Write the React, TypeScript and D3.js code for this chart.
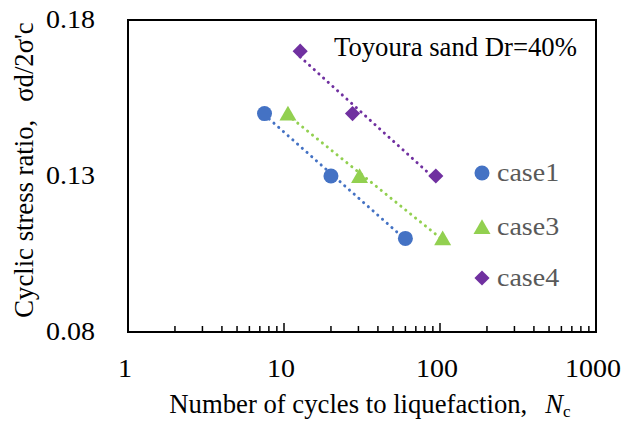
import React from 'react';
import * as d3 from 'd3';

const caseNames = ['case1', 'case3', 'case4'];
const case1N = [7.5, 20, 60];
const case1R = [0.15, 0.13, 0.11];
const case3N = [10.6, 30.5, 104];
const case3R = [0.15, 0.13, 0.11];
const case4N = [12.7, 27.5, 94];
const case4R = [0.17, 0.15, 0.13];
const seriesColors = ['#4472C4', '#92D050', '#7030A0'];
const xTickValues = [1, 10, 100, 1000];
const yTickValues = [0.08, 0.13, 0.18];

const W = 626;
const H = 426;
const M = { left: 128, right: 30, top: 20, bottom: 94 };

const seriesN = [case1N, case3N, case4N];
const seriesR = [case1R, case3R, case4R];

function regress(xs: number[], ys: number[]) {
  const lx = xs.map((v) => Math.log10(v));
  const mx = d3.mean(lx)!;
  const my = d3.mean(ys)!;
  let num = 0, den = 0;
  lx.forEach((v, i) => { num += (v - mx) * (ys[i] - my); den += (v - mx) * (v - mx); });
  const b = num / den;
  const a = my - b * mx;
  return (x: number) => a + b * Math.log10(x);
}

const serif = 'Liberation Serif, Times New Roman, serif';
const SX = 1.12;

export default function App() {
  const x = d3.scaleLog().domain([1, 1000]).range([M.left, W - M.right]);
  const y = d3.scaleLinear().domain([0.08, 0.18]).range([H - M.bottom, M.top]);
  const x0 = M.left, x1 = W - M.right, y0 = H - M.bottom, y1 = M.top;

  const minorTicks: number[] = [];
  for (let d = 1; d < 1000; d *= 10) for (let k = 2; k <= 9; k++) minorTicks.push(d * k);

  const circle = d3.symbol(d3.symbolCircle, 177)()!;
  const tri = d3.symbol(d3.symbolTriangle, 125)()!;
  const sq = d3.symbol(d3.symbolSquare, 115)()!;
  const shapes = [circle, tri, sq];
  const rot = [0, 0, 45];
  const dy = [0, 2, 0];

  const line = d3.line<[number, number]>().x((d) => d[0]).y((d) => d[1]);

  return (
    <svg width={W} height={H} style={{ position: 'absolute', left: 0, top: 0, background: '#fff' }}>
      <rect x={0} y={0} width={W} height={H} fill="#fff" />
      {seriesN.map((ns, i) => {
        const f = regress(ns, seriesR[i]);
        const lo = d3.min(ns)!, hi = d3.max(ns)!;
        const pts: [number, number][] = d3.range(0, 21).map((k) => {
          const v = Math.pow(10, Math.log10(lo) + (Math.log10(hi) - Math.log10(lo)) * k / 20);
          return [x(v), y(f(v))];
        });
        return (
          <path key={'t' + i} d={line(pts)!} fill="none" stroke={seriesColors[i]} strokeWidth={3}
            strokeDasharray="0.1 6.2" strokeLinecap="round" />
        );
      })}
      {seriesN.map((ns, i) => ns.map((n, j) => (
        <path key={'m' + i + '-' + j} d={shapes[i]} fill={seriesColors[i]}
          transform={`translate(${x(n)},${y(seriesR[i][j]) + dy[i]}) rotate(${rot[i]})`} />
      )))}
      <rect x={x0} y={y1} width={x1 - x0} height={y0 - y1} fill="none" stroke="#000" strokeWidth={2} />
      {minorTicks.map((t) => (
        <line key={'mt' + t} x1={x(t)} x2={x(t)} y1={y0} y2={y0 - 6} stroke="#000" strokeWidth={1.5} />
      ))}
      {xTickValues.map((t) => (
        <line key={'Mt' + t} x1={x(t)} x2={x(t)} y1={y0} y2={y0 - 9} stroke="#000" strokeWidth={1.5} />
      ))}
      {xTickValues.map((t) => (
        <text key={'xl' + t} transform={`translate(${x(t) - 3},377) scale(${SX},1)`} textAnchor="middle"
          fontFamily={serif} fontSize={25} fill="#000">
          {String(t)}
        </text>
      ))}
      {yTickValues.map((t) => (
        <text key={'yl' + t} transform={`translate(95,${y(t) + 8}) scale(${SX},1)`} textAnchor="end"
          fontFamily={serif} fontSize={25} fill="#000">
          {t.toFixed(2)}
        </text>
      ))}
      <text x={334} y={56} fontFamily={serif} fontSize={26.7} fill="#000">Toyoura sand Dr=40%</text>
      {caseNames.map((c, i) => {
        const ly = [173, 227, 278][i];
        return (
          <g key={'lg' + c}>
            <path d={shapes[i]} fill={seriesColors[i]} transform={`translate(482,${ly + dy[i]}) rotate(${rot[i]})`} />
            <text transform={`translate(497,${ly + 8}) scale(${SX},1)`} fontFamily={serif} fontSize={25} fill="#595959">{c}</text>
          </g>
        );
      })}
      <text x={0} y={0} transform="translate(33,170) rotate(-90)" textAnchor="middle" fontFamily={serif} fontSize={26.7} fill="#000">
        Cyclic stress ratio,<tspan dx={18}>σd/2σ'c</tspan>
      </text>
      <text x={370} y={413} textAnchor="middle" fontFamily={serif} fontSize={26.7} fill="#000">
        Number of cycles to liquefaction,<tspan dx={18} fontStyle="italic">N</tspan><tspan fontSize={17} dy={4}>c</tspan>
      </text>
    </svg>
  );
}
